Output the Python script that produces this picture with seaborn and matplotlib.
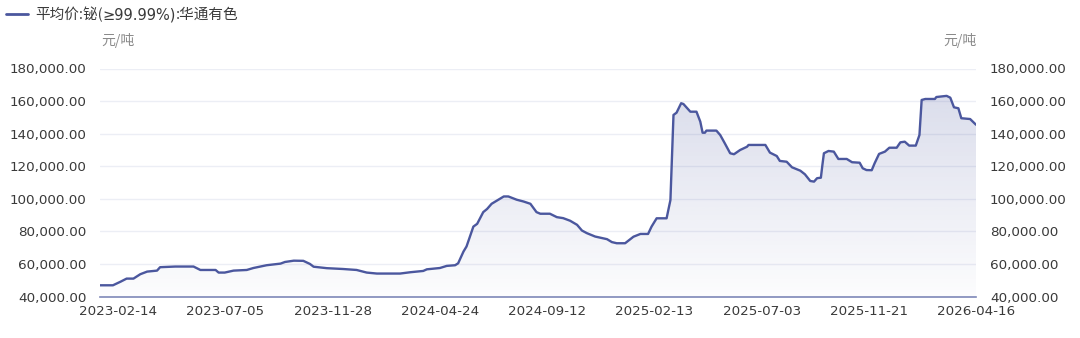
import numpy as np
import pandas as pd
import matplotlib
matplotlib.use("Agg")
import matplotlib.pyplot as plt
import matplotlib.dates as mdates
from matplotlib.lines import Line2D
from matplotlib.colors import to_rgb
from matplotlib.transforms import offset_copy
import seaborn as sns

# ---------------- data ----------------
dates = [
    "2023-01-21", "2023-02-07", "2023-02-17", "2023-02-25", "2023-03-06", "2023-03-15",
    "2023-03-24", "2023-04-06", "2023-04-10", "2023-04-30", "2023-05-24", "2023-06-02",
    "2023-06-22", "2023-06-26", "2023-07-04", "2023-07-16", "2023-08-03", "2023-08-12",
    "2023-08-30", "2023-09-18", "2023-09-24", "2023-10-06", "2023-10-19", "2023-10-28",
    "2023-11-02", "2023-11-20", "2023-12-12", "2023-12-31", "2024-01-14", "2024-01-28",
    "2024-02-29", "2024-03-14", "2024-04-01", "2024-04-06", "2024-04-24", "2024-05-03",
    "2024-05-14", "2024-05-18", "2024-05-25", "2024-05-29", "2024-06-07", "2024-06-12",
    "2024-06-20", "2024-06-25", "2024-07-01", "2024-07-10", "2024-07-17", "2024-07-23",
    "2024-08-03", "2024-08-12", "2024-08-21", "2024-08-29", "2024-09-03", "2024-09-16",
    "2024-09-26", "2024-10-05", "2024-10-15", "2024-10-25", "2024-11-01", "2024-11-08",
    "2024-11-20", "2024-12-07", "2024-12-14", "2024-12-21", "2025-01-02", "2025-01-14",
    "2025-01-24", "2025-02-04", "2025-02-09", "2025-02-16", "2025-03-01", "2025-03-06",
    "2025-03-08", "2025-03-10", "2025-03-14", "2025-03-20", "2025-03-23", "2025-04-01",
    "2025-04-09", "2025-04-14", "2025-04-17", "2025-04-20", "2025-04-22", "2025-05-05",
    "2025-05-10", "2025-05-16", "2025-05-23", "2025-05-28", "2025-06-05", "2025-06-14",
    "2025-06-16", "2025-07-08", "2025-07-14", "2025-07-23", "2025-07-27", "2025-08-05",
    "2025-08-12", "2025-08-23", "2025-08-29", "2025-09-05", "2025-09-10", "2025-09-14",
    "2025-09-19", "2025-09-21", "2025-09-23", "2025-09-29", "2025-10-06", "2025-10-12",
    "2025-10-23", "2025-10-30", "2025-11-09", "2025-11-13", "2025-11-18", "2025-11-25",
    "2025-11-29", "2025-12-05", "2025-12-13", "2025-12-19", "2025-12-29", "2026-01-03",
    "2026-01-09", "2026-01-15", "2026-01-24", "2026-01-29", "2026-02-01", "2026-02-06",
    "2026-02-19", "2026-02-21", "2026-03-07", "2026-03-12", "2026-03-17", "2026-03-23",
    "2026-03-27", "2026-04-08", "2026-04-16",
]
prices = [
    47000, 47000, 49200, 51100, 51100, 53800,
    55400, 56000, 58100, 58500, 58500, 56400,
    56400, 54800, 54800, 56000, 56400, 57600,
    59300, 60300, 61300, 62100, 62000, 60100,
    58400, 57500, 57000, 56400, 54800, 54200,
    54200, 55000, 55800, 56800, 57600, 58900,
    59300, 60500, 67700, 70800, 83000, 84700,
    91900, 93800, 97000, 99500, 101500, 101500,
    99500, 98400, 97000, 91900, 90900, 90900,
    88800, 88200, 86600, 84100, 80600, 79000,
    76900, 75300, 73500, 72800, 72800, 76800,
    78500, 78500, 83000, 88100, 88100, 99300,
    125900, 151500, 152900, 158700, 158200, 153500,
    153500, 147400, 140600, 140600, 141900, 141900,
    139200, 134100, 128000, 127400, 130000, 132000,
    133100, 133100, 128400, 126300, 123300, 122800,
    119400, 117300, 115100, 111000, 110600, 112700,
    113000, 120800, 128000, 129400, 129000, 124500,
    124500, 122500, 122200, 118800, 117700, 117600,
    121900, 127600, 129000, 131400, 131400, 134700,
    135100, 132700, 132700, 139200, 160700, 161300,
    161300, 162500, 163200, 162100, 156200, 155600,
    149500, 149000, 145500,
]
tick_dates = ["2023-02-14", "2023-07-05", "2023-11-28", "2024-04-24", "2024-09-12",
              "2025-02-13", "2025-07-03", "2025-11-21", "2026-04-16"]
y_ticks = [40000, 60000, 80000, 100000, 120000, 140000, 160000, 180000]
series_name = "平均价:铋(≥99.99%):华通有色"
unit_label = "元/吨"

# ---------------- style ----------------
sns.set_theme(style="white")
plt.rcParams['font.family'] = ['DejaVu Sans', 'Noto Sans CJK SC']
CJK = ['Noto Sans CJK SC', 'DejaVu Sans']
LATIN = ['DejaVu Sans', 'Noto Sans CJK SC']
LINE = "#4b579e"
TXT = "#3a3a3a"

W, H = 1080, 338
fig = plt.figure(figsize=(W / 100, H / 100), dpi=100)
y_bot, y_top = 296.7, 68.5
ax = fig.add_axes([100 / W, 1 - y_bot / H, 876 / W, (y_bot - y_top) / H])

df = pd.DataFrame({"date": pd.to_datetime(dates), "price": prices})
sns.lineplot(data=df, x="date", y="price", ax=ax, color=LINE, linewidth=1.7, zorder=3)

# category-like (trading-day) spacing: equal distance between labelled dates
tnum = mdates.date2num(pd.to_datetime(tick_dates))
knots = np.concatenate([[tnum[0] - (tnum[1] - tnum[0])], tnum, [tnum[-1] + (tnum[-1] - tnum[-2])]])
kidx = np.arange(-1, len(tnum) + 1, dtype=float)


def fwd(x):
    return np.interp(np.asarray(x, dtype=float), knots, kidx)


def inv(i):
    return np.interp(np.asarray(i, dtype=float), kidx, knots)


ax.set_xscale('function', functions=(fwd, inv))

# area fill with vertical gradient
xn = mdates.date2num(df["date"])
fill = ax.fill_between(xn, df["price"], y_ticks[0], color='none', linewidth=0)
top = (max(prices) - y_ticks[0]) / (y_ticks[-1] - y_ticks[0])
rgba = np.zeros((256, 1, 4))
rgba[..., :3] = to_rgb(LINE)
rgba[..., 3] = np.linspace(0.015, 0.2, 256)[:, None]
im = ax.imshow(rgba, extent=[0, 1, 0, top], transform=ax.transAxes, aspect='auto',
               origin='lower', zorder=1, interpolation='bilinear')
im.set_clip_path(fill.get_paths()[0], transform=fill.get_transform())

ax.set_xlim(xn[0], tnum[-1])
ax.set_ylim(y_ticks[0], y_ticks[-1])
ax.set_xticks(tnum)
ax.set_xticklabels(tick_dates)
ax.set_yticks(y_ticks)
ax.set_yticklabels([f"{v:,.2f}" for v in y_ticks])
ax.set_xlabel("")
ax.set_ylabel("")
ax.yaxis.grid(True, color="#eceef5", linewidth=1)
ax.xaxis.grid(False)
for s in ("left", "right", "top"):
    ax.spines[s].set_visible(False)
ax.spines["bottom"].set_color("#7e87b8")
ax.spines["bottom"].set_linewidth(1.2)
ax.tick_params(axis='x', length=0, pad=6, labelsize=9.7, colors=TXT)
ax.tick_params(axis='y', length=0, pad=9.5, labelsize=9.7, colors=TXT)

ax2 = ax.twinx()
ax2.set_ylim(ax.get_ylim())
ax2.set_yticks(y_ticks)
ax2.set_yticklabels([f"{v:,.2f}" for v in y_ticks])
ax2.tick_params(axis='y', length=0, pad=10, labelsize=9.7, colors=TXT)
for s in ax2.spines.values():
    s.set_visible(False)
ax2.grid(False)

# units
fig.text(101 / W, 1 - 40 / H, unit_label, color="#8a8a8a", fontsize=10, va='center', ha='left', family=CJK)
fig.text(977 / W, 1 - 40 / H, unit_label, color="#8a8a8a", fontsize=10, va='center', ha='right', family=CJK)

# legend (≥ drawn with DejaVu so it is the upright glyph)
fig.add_artist(Line2D([6 / W, 28 / W], [1 - 14 / H] * 2, color=LINE, linewidth=2, transform=fig.transFigure))
i0 = series_name.index("≥")
i1 = series_name.index(")", i0) + 1
parts = [(series_name[:i0], CJK), (series_name[i0:i1], LATIN), (series_name[i1:], CJK)]
renderer = fig.canvas.get_renderer()
x_px = 35.0
for txt, fam in parts:
    t = fig.text(x_px / W, 1 - 14.5 / H, txt, color=TXT, fontsize=10.5, va='center', ha='left', family=fam)
    bb = t.get_window_extent(renderer=renderer)
    x_px += bb.width

fig.savefig("out.png", dpi=100)
